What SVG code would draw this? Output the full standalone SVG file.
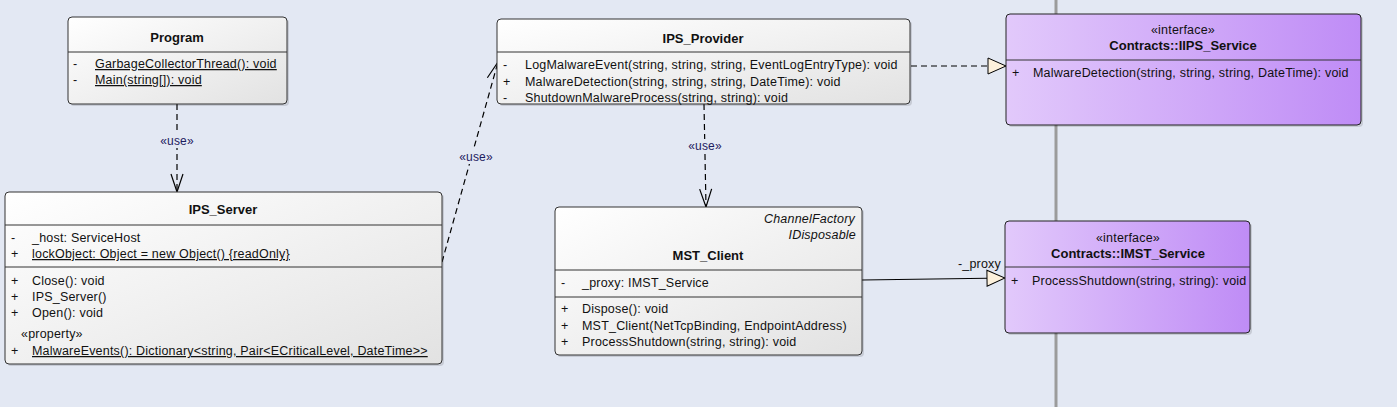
<svg xmlns="http://www.w3.org/2000/svg" width="1397" height="407" viewBox="0 0 1397 407">
<defs>
<linearGradient id="cls" x1="0" y1="0" x2="1" y2="1">
<stop offset="0" stop-color="#ffffff"/>
<stop offset="1" stop-color="#e2e2e2"/>
</linearGradient>
<linearGradient id="ifc" x1="0" y1="0" x2="1" y2="0">
<stop offset="0" stop-color="#e2c9fb"/>
<stop offset="1" stop-color="#bf8cf6"/>
</linearGradient>
<marker id="open" viewBox="0 0 20 20" refX="19" refY="10" markerWidth="20" markerHeight="20" markerUnits="userSpaceOnUse" orient="auto">
<path d="M1,4 L19,10 L1,16" fill="none" stroke="#000" stroke-width="1.2"/>
</marker>
<marker id="tri" viewBox="0 0 20 20" refX="19" refY="10" markerWidth="20" markerHeight="20" markerUnits="userSpaceOnUse" orient="auto">
<path d="M1,2 L19,10 L1,18 Z" fill="#fdf1dc" stroke="#000" stroke-width="1"/>
</marker>
</defs>
<style>
text{font-family:"Liberation Sans",Arial,sans-serif;font-size:12.5px;letter-spacing:0.2px;fill:#111}
.t{font-weight:bold;font-size:13px;letter-spacing:0;text-anchor:middle}
.c{text-anchor:middle}
.i{font-style:italic;text-anchor:end}
.u{text-decoration:underline}
.box{fill:url(#cls);stroke:#333;stroke-width:1}
.ibox{fill:url(#ifc);stroke:#222;stroke-width:1}
.sh{fill:#000;opacity:0.12}
.sep{stroke:#333;stroke-width:1}
.dash{fill:none;stroke:#000;stroke-width:1.2;stroke-dasharray:6,4}
.lbl{fill:#1e2060;font-size:12px;letter-spacing:0.2px;text-anchor:middle}
</style>
<rect width="1397" height="407" fill="#e3e8f3"/>
<line x1="1056" y1="0" x2="1056" y2="407" stroke="#9b9b9b" stroke-width="3"/>

<g id="connectors">
<line class="dash" x1="177" y1="104" x2="177" y2="192" marker-end="url(#open)"/>
<rect x="158" y="134" width="38" height="14" fill="#e3e8f3"/>
<text class="lbl" x="177" y="145">«use»</text>
<line class="dash" x1="442" y1="262" x2="498" y2="62" marker-end="url(#open)"/>
<rect x="457" y="150" width="38" height="14" fill="#e3e8f3"/>
<text class="lbl" x="476" y="161">«use»</text>
<line class="dash" x1="704" y1="104" x2="706" y2="207" marker-end="url(#open)"/>
<rect x="686" y="139" width="38" height="14" fill="#e3e8f3"/>
<text class="lbl" x="705" y="150">«use»</text>
<line class="dash" x1="911" y1="66" x2="1006" y2="66" marker-end="url(#tri)"/>
<line x1="862" y1="280" x2="1005" y2="278" stroke="#000" stroke-width="1.2" marker-end="url(#tri)"/>
<text x="1001" y="268" style="text-anchor:end">-_proxy</text>
</g>

<g id="Program">
<rect class="sh" x="70" y="19" width="219" height="87" rx="4"/>
<rect class="box" x="68" y="17" width="219" height="87" rx="4"/>
<line class="sep" x1="68" y1="52" x2="287" y2="52"/>
<text class="t" x="177" y="42">Program</text>
<text x="73" y="68">-</text><text class="u" x="95" y="68">GarbageCollectorThread(): void</text>
<text x="73" y="84">-</text><text class="u" x="95" y="84">Main(string[]): void</text>
</g>

<g id="IPS_Server">
<rect class="sh" x="7" y="194" width="437" height="172" rx="4"/>
<rect class="box" x="5" y="192" width="437" height="172" rx="4"/>
<line class="sep" x1="5" y1="225" x2="442" y2="225"/>
<text class="t" x="223" y="214">IPS_Server</text>
<text x="11" y="242">-</text><text x="32" y="242">_host: ServiceHost</text>
<text x="11" y="258">+</text><text class="u" x="32" y="258">lockObject: Object = new Object() {readOnly}</text>
<line class="sep" x1="5" y1="267" x2="442" y2="267"/>
<text x="11" y="285">+</text><text x="32" y="285">Close(): void</text>
<text x="11" y="301">+</text><text x="32" y="301">IPS_Server()</text>
<text x="11" y="317">+</text><text x="32" y="317">Open(): void</text>
<text x="21" y="338">«property»</text>
<text x="11" y="355">+</text><text class="u" x="32" y="355">MalwareEvents(): Dictionary&lt;string, Pair&lt;ECriticalLevel, DateTime&gt;&gt;</text>
</g>

<g id="IPS_Provider">
<rect class="sh" x="499" y="21" width="413" height="85" rx="4"/>
<rect class="box" x="497" y="19" width="413" height="85" rx="4"/>
<line class="sep" x1="497" y1="52" x2="910" y2="52"/>
<text class="t" x="703" y="43">IPS_Provider</text>
<text x="503" y="69">-</text><text x="525" y="69">LogMalwareEvent(string, string, string, EventLogEntryType): void</text>
<text x="503" y="86">+</text><text x="525" y="86">MalwareDetection(string, string, string, DateTime): void</text>
<text x="503" y="102">-</text><text x="525" y="102">ShutdownMalwareProcess(string, string): void</text>
</g>

<g id="MST_Client">
<rect class="sh" x="557" y="209" width="307" height="148" rx="4"/>
<rect class="box" x="555" y="207" width="307" height="148" rx="4"/>
<text class="i" x="855" y="223">ChannelFactory</text>
<text class="i" x="856" y="239">IDisposable</text>
<text class="t" x="708" y="260">MST_Client</text>
<line class="sep" x1="555" y1="270" x2="862" y2="270"/>
<text x="561" y="287">-</text><text x="582" y="287">_proxy: IMST_Service</text>
<line class="sep" x1="555" y1="297" x2="862" y2="297"/>
<text x="561" y="313">+</text><text x="582" y="313">Dispose(): void</text>
<text x="561" y="330">+</text><text x="582" y="330">MST_Client(NetTcpBinding, EndpointAddress)</text>
<text x="561" y="346">+</text><text x="582" y="346">ProcessShutdown(string, string): void</text>
</g>

<g id="IIPS_Service">
<rect class="sh" x="1008" y="16" width="355" height="111" rx="4"/>
<rect class="ibox" x="1006" y="14" width="355" height="111" rx="4"/>
<text class="c" x="1183" y="34">«interface»</text>
<text class="t" x="1183" y="50">Contracts::IIPS_Service</text>
<line class="sep" x1="1006" y1="60" x2="1361" y2="60"/>
<text x="1012" y="77">+</text><text x="1033" y="77">MalwareDetection(string, string, string, DateTime): void</text>
</g>

<g id="IMST_Service">
<rect class="sh" x="1007" y="223" width="245" height="112" rx="4"/>
<rect class="ibox" x="1005" y="221" width="245" height="112" rx="4"/>
<text class="c" x="1128" y="242">«interface»</text>
<text class="t" x="1128" y="258">Contracts::IMST_Service</text>
<line class="sep" x1="1005" y1="267" x2="1250" y2="267"/>
<text x="1011" y="285">+</text><text x="1032" y="285">ProcessShutdown(string, string): void</text>
</g>
</svg>
